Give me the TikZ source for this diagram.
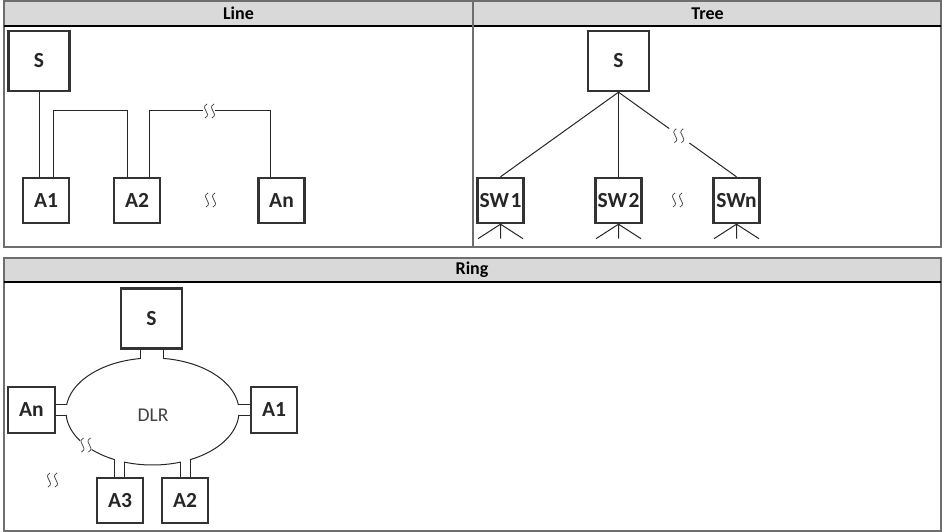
\documentclass[tikz,border=0pt]{standalone}
\usepackage{fontspec}
\setmainfont{Carlito}
\usetikzlibrary{calc}
\definecolor{hdr}{HTML}{D9D9D9}
\definecolor{framec}{HTML}{6E6E6E}
\definecolor{boxc}{HTML}{333333}
\begin{document}
\begin{tikzpicture}[x=1pt,y=-1pt,
  dev/.style={draw=boxc, line width=2.4pt, fill=white, inner sep=0pt, text=black!85, font=\fontsize{21.5}{22}\selectfont\bfseries},
  bigbox/.style={dev, minimum width=61pt, minimum height=60pt},
  smallbox/.style={dev, minimum width=46pt, minimum height=45pt},
  wire/.style={draw=black!85, line width=1pt},
  hdrtext/.style={font=\fontsize{18}{18}\selectfont\bfseries},
  gapmark/.pic={\draw[line width=0.8pt, black!70] (-1,-7) .. controls (-9,-2) and (5,2) .. (-3,7) (6,-7) .. controls (-2,-2) and (12,2) .. (4,7);}
]
\useasboundingbox (0,0) rectangle (942,532);

% ---- tables ----
\fill[hdr] (4,1) rectangle (941,26);
\draw[framec, line width=1.5pt] (4,1) rectangle (941,247);
\draw[black, line width=1.5pt] (4,26) -- (941,26);
\draw[framec, line width=1.5pt] (473,1) -- (473,247);
\node[hdrtext] (hline) at (238.5,13.5) {Line};
\node[hdrtext] (htree) at (707.5,13.5) {Tree};

\fill[hdr] (4,258) rectangle (941,282);
\draw[framec, line width=1.5pt] (4,258) rectangle (941,531);
\draw[black, line width=1.5pt] (4,282) -- (941,282);
\node[hdrtext] (hring) at (472,270) {Ring};

% ---- Line ----
\node[bigbox] (LS) at (39,61) {S};
\node[smallbox] (LA1) at (46,200.5) {A1};
\node[smallbox] (LA2) at (137,200.5) {A2};
\node[smallbox] (LAn) at (281.5,200.5) {An};
\draw[wire] (LS.south) -- (LS.south |- LA1.north);
\coordinate (h1) at (0,111);
\coordinate (p1) at ($(LA1.north)+(7,0)$);
\coordinate (p2) at ($(LA2.north)+(-10,0)$);
\coordinate (p3) at ($(LA2.north)+(12,0)$);
\coordinate (p4) at ($(LAn.north)+(-11.5,0)$);
\coordinate (g1) at (203,111);
\coordinate (g2) at (215,111);
\draw[wire] (p1) |- (h1 -| p2) -- (p2);
\draw[wire] (p3) |- (g1);
\draw[wire] (g2) -| (p4);
\pic at (208,111) {gapmark};
\pic at (209,200) {gapmark};

% ---- Tree ----
\node[bigbox] (TS) at (618.5,61) {S};
\node[smallbox] (T1) at (500.5,200.5) {SW\kern1.5pt1};
\node[smallbox] (T2) at (618.5,200.5) {SW\kern1.5pt2};
\node[smallbox] (Tn) at (736.5,200.5) {SWn};
\draw[wire] (TS.south) -- (T1.north);
\draw[wire] (TS.south) -- (T2.north);
\draw[wire] (TS.south) -- ($(TS.south)!0.43!(Tn.north)$);
\draw[wire] ($(TS.south)!0.6!(Tn.north)$) -- (Tn.north);
\pic at ($(TS.south)!0.515!(Tn.north)+(-2,0)$) {gapmark};
\foreach \n in {T1,T2,Tn}
  \draw[wire] (\n.south) -- ++(-22.5,14.5) (\n.south) -- ++(0,14.5) (\n.south) -- ++(22.5,14.5);
\pic at (676,200) {gapmark};

% ---- Ring ----
\node[bigbox] (RS) at (151.5,318.5) {S};
\node[smallbox, minimum width=47pt, minimum height=46pt] (RAn) at (31.5,410) {An};
\node[smallbox, minimum width=46pt, minimum height=46pt] (RA1) at (274,410) {A1};
\node[smallbox] (RA3) at (120,500.5) {A3};
\node[smallbox] (RA2) at (185,500.5) {A2};
\node[font=\fontsize{19.5}{20}\selectfont, text=black!75] (dlr) at (153,415) {DLR};

\foreach \t/\nm in {98.3/a,83/b,7/c,-3.75/d,-64.3/e,-70.8/f,-109.2/g,-116.4/h,183.75/k,173/l}
  \coordinate (r\nm) at ({152.5+86.5*cos(\t)},{411.5-53.5*sin(\t)});

\draw[wire] plot[domain=7:83, samples=40] ({152.5+86.5*cos(\x)},{411.5-53.5*sin(\x)});
\draw[wire] plot[domain=-64.3:-3.75, samples=40] ({152.5+86.5*cos(\x)},{411.5-53.5*sin(\x)});
\draw[wire] plot[domain=-109.2:-70.8, samples=30] ({152.5+86.5*cos(\x)},{411.5-53.5*sin(\x)});
\draw[wire] plot[domain=-134.7:-116.4, samples=20] ({152.5+86.5*cos(\x)},{411.5-53.5*sin(\x)});
\draw[wire] plot[domain=183.75:213.1, samples=20] ({152.5+86.5*cos(\x)},{411.5-53.5*sin(\x)});
\draw[wire] plot[domain=98.3:173, samples=40] ({152.5+86.5*cos(\x)},{411.5-53.5*sin(\x)});

\draw[wire] (ra |- RS.south) -- (ra);
\draw[wire] (rb |- RS.south) -- (rb);
\draw[wire] (RA1.west |- rc) -- (rc);
\draw[wire] (RA1.west |- rd) -- (rd);
\draw[wire] (re |- RA2.north) -- (re);
\draw[wire] (rf |- RA2.north) -- (rf);
\draw[wire] (rg |- RA3.north) -- (rg);
\draw[wire] (rh |- RA3.north) -- (rh);
\draw[wire] (RAn.east |- rk) -- (rk);
\draw[wire] (RAn.east |- rl) -- (rl);
\pic at (84.5,445) {gapmark};
\pic at (51,480) {gapmark};
\end{tikzpicture}
\end{document}
